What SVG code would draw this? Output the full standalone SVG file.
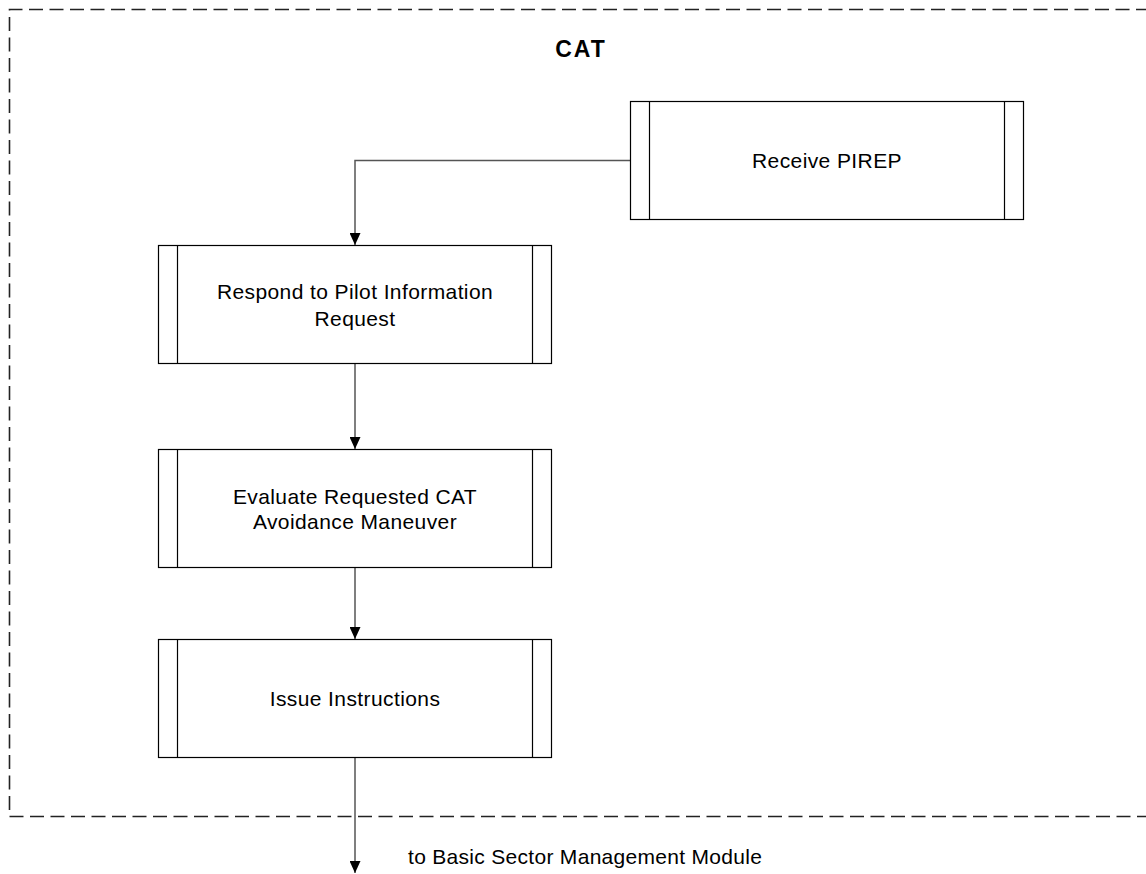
<svg xmlns="http://www.w3.org/2000/svg" width="1146" height="874" viewBox="0 0 1146 874">
<style>
.box{fill:#fff;stroke:#000;stroke-width:1.2}
.bar{stroke:#000;stroke-width:1.2}
.lbl{font-family:"Liberation Sans",Arial,sans-serif;font-size:21px;fill:#000;text-anchor:middle;letter-spacing:0.4px}
.title{font-family:"Liberation Sans",Arial,sans-serif;font-size:23px;font-weight:bold;fill:#000;text-anchor:middle;letter-spacing:2px}
.note{font-family:"Liberation Sans",Arial,sans-serif;font-size:21px;fill:#000;letter-spacing:0.3px}
.conn{fill:none;stroke:#555;stroke-width:1.5}
.frame{fill:none;stroke:#222;stroke-width:1.6;stroke-dasharray:14 6.5}
</style>
<defs>
<marker id="arr" viewBox="0 0 12 11" refX="12" refY="5.5" markerWidth="12" markerHeight="11" markerUnits="userSpaceOnUse" orient="auto">
<path d="M0,0 L12,5.5 L0,11 Z" fill="#000"/>
</marker>
</defs>
<rect width="1146" height="874" fill="#fff"/>
<g id="frame">
<path class="frame" d="M1150,9.5 H9.5 V816.5 H1150"/>
<text class="title" x="581" y="57">CAT</text>
</g>
<g id="connectors">
<path class="conn" d="M630.5,160.5 H355 V245" marker-end="url(#arr)"/>
<path class="conn" d="M355,363.5 V449" marker-end="url(#arr)"/>
<path class="conn" d="M355,567.5 V639" marker-end="url(#arr)"/>
<path class="conn" d="M355,757.5 V873" marker-end="url(#arr)"/>
</g>
<g id="receive">
<rect class="box" x="630.5" y="101.5" width="393" height="118"/>
<line class="bar" x1="649.5" y1="101.5" x2="649.5" y2="219.5"/>
<line class="bar" x1="1004.5" y1="101.5" x2="1004.5" y2="219.5"/>
<text class="lbl" x="827" y="168">Receive PIREP</text>
</g>
<g id="respond">
<rect class="box" x="158.5" y="245.5" width="393" height="118"/>
<line class="bar" x1="177.5" y1="245.5" x2="177.5" y2="363.5"/>
<line class="bar" x1="532.5" y1="245.5" x2="532.5" y2="363.5"/>
<text class="lbl" x="355" y="299">Respond to Pilot Information</text>
<text class="lbl" x="355" y="325.5">Request</text>
</g>
<g id="evaluate">
<rect class="box" x="158.5" y="449.5" width="393" height="118"/>
<line class="bar" x1="177.5" y1="449.5" x2="177.5" y2="567.5"/>
<line class="bar" x1="532.5" y1="449.5" x2="532.5" y2="567.5"/>
<text class="lbl" x="355" y="503.5">Evaluate Requested CAT</text>
<text class="lbl" x="355" y="529">Avoidance Maneuver</text>
</g>
<g id="issue">
<rect class="box" x="158.5" y="639.5" width="393" height="118"/>
<line class="bar" x1="177.5" y1="639.5" x2="177.5" y2="757.5"/>
<line class="bar" x1="532.5" y1="639.5" x2="532.5" y2="757.5"/>
<text class="lbl" x="355" y="705.5">Issue Instructions</text>
</g>
<g id="note">
<text class="note" x="408" y="864">to Basic Sector Management Module</text>
</g>
</svg>
